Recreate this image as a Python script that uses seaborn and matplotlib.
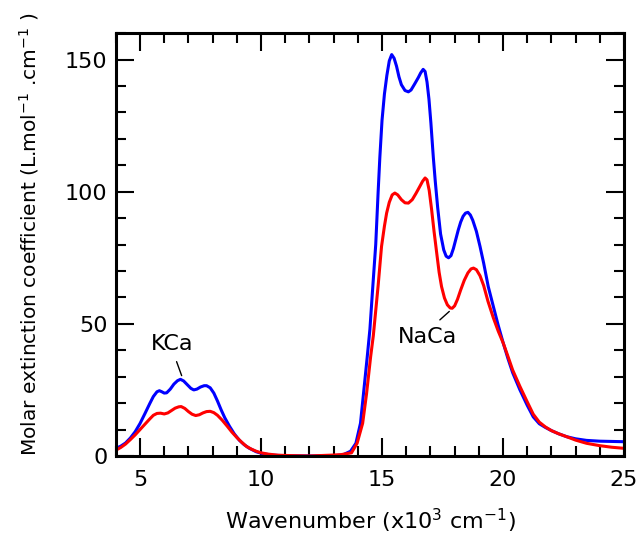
import pandas as pd
import matplotlib.pyplot as plt
import seaborn as sns
from matplotlib.ticker import MultipleLocator

# valori (x in 10^3 cm-1, y in L/mol/cm)
kca_x = [4.0, 4.2, 4.4, 4.6, 4.8, 5.0, 5.2, 5.4, 5.55, 5.7, 5.8, 5.9, 6.0, 6.1, 6.25, 6.4,
         6.55, 6.67, 6.8, 6.95, 7.1, 7.22, 7.35, 7.5, 7.65, 7.75, 7.9, 8.05, 8.2, 8.35,
         8.5, 8.7, 8.9, 9.1, 9.3, 9.5, 9.8, 10.1, 10.5, 11.0, 12.0, 13.0, 13.4, 13.7,
         13.92, 14.11, 14.25, 14.39, 14.5, 14.61, 14.74, 14.84, 14.91, 15.0, 15.1, 15.2,
         15.3, 15.4, 15.5, 15.6, 15.7, 15.8, 15.95, 16.09, 16.2, 16.35, 16.5, 16.6, 16.7,
         16.78, 16.86, 16.94, 17.02, 17.12, 17.2, 17.3, 17.42, 17.55, 17.65, 17.75, 17.85,
         17.95, 18.05, 18.15, 18.25, 18.35, 18.45, 18.55, 18.65, 18.75, 18.9, 19.05, 19.2,
         19.39, 19.6, 19.8, 20.01, 20.2, 20.4, 20.7, 21.0, 21.25, 21.5, 21.75, 22.0, 22.3,
         22.63, 23.0, 23.45, 24.0, 24.5, 25.0]
kca_y = [2.9, 3.7, 4.9, 6.8, 9.2, 12.3, 16.0, 19.8, 22.5, 24.3, 24.7, 24.3, 23.8, 23.9,
         25.3, 27.2, 28.5, 29.0, 28.4, 27.0, 25.6, 25.0, 25.3, 26.1, 26.6, 26.6, 25.8, 23.8,
         20.8, 17.5, 14.5, 11.2, 8.3, 6.0, 4.3, 3.0, 1.6, 0.8, 0.3, 0.1, 0.0, 0.1, 0.5, 1.8,
         4.8, 12.4, 25.0, 37.6, 48.0, 62.9, 80.0, 100.0, 113.0, 127.0, 137.0, 144.0,
         149.5, 151.9, 150.5, 147.5, 143.5, 140.5, 138.3, 137.8, 138.5, 140.8, 143.2, 145.0,
         146.3, 145.5, 141.5, 135.0, 126.0, 113.0, 104.0, 94.0, 84.0, 78.0, 75.6, 75.0, 75.8,
         78.5, 82.0, 85.5, 88.5, 90.7, 91.9, 92.2, 91.2, 89.2, 85.0, 79.3, 73.0,
         64.1, 56.6, 49.5, 42.7, 37.0, 31.5, 25.0, 19.2, 14.8, 12.2, 10.8, 9.6, 8.4,
         7.3, 6.5, 5.9, 5.6, 5.5, 5.4]

naca_x = [4.0, 4.2, 4.4, 4.6, 4.8, 5.0, 5.2, 5.4, 5.55, 5.7, 5.85, 6.0, 6.15, 6.3, 6.45,
          6.6, 6.7, 6.85, 7.0, 7.15, 7.3, 7.45, 7.6, 7.75, 7.9, 8.05, 8.2, 8.4, 8.6, 8.8,
          9.0, 9.2, 9.4, 9.6, 9.8, 10.0, 10.3, 10.7, 11.2, 12.0, 12.85, 13.3, 13.74, 13.97,
          14.2, 14.36, 14.53, 14.64, 14.74, 14.84, 14.98, 15.1, 15.19, 15.3, 15.42, 15.53,
          15.65, 15.8, 15.95, 16.09, 16.25, 16.4, 16.55, 16.68, 16.78, 16.86, 16.95, 17.05,
          17.15, 17.26, 17.36, 17.46, 17.58, 17.7, 17.82, 17.9, 18.0, 18.12, 18.25, 18.4,
          18.55, 18.68, 18.78, 18.9, 19.05, 19.2, 19.38, 19.6, 19.8, 20.01, 20.2, 20.4,
          20.7, 21.0, 21.25, 21.5, 21.75, 22.0, 22.3, 22.63, 23.0, 23.45, 24.0, 24.5, 25.0]
naca_y = [2.2, 3.2, 4.5, 6.2, 8.0, 10.0, 12.0, 14.0, 15.4, 16.1, 16.2, 15.9, 16.3, 17.2,
          18.1, 18.6, 18.7, 18.0, 16.8, 15.8, 15.3, 15.6, 16.3, 16.8, 16.9, 16.4, 15.4, 13.5,
          11.3, 9.0, 7.0, 5.2, 3.6, 2.6, 1.8, 1.2, 0.7, 0.3, 0.15, 0.0, 0.3, 0.5, 1.2, 4.8,
          12.4, 23.5, 37.6, 45.5, 55.0, 64.5, 79.3, 87.0, 91.9, 96.0, 98.8, 99.5,
          98.8, 97.0, 95.8, 95.7, 97.0, 99.3, 101.8, 104.0, 105.2, 104.5, 100.5, 93.2,
          85.0, 76.8, 69.5, 64.1, 59.8, 57.2, 56.0, 55.9, 56.8, 59.3, 62.8, 66.5,
          69.3, 70.8, 71.1, 70.5, 68.2, 64.5, 58.5, 52.3, 47.3, 42.7, 37.8, 32.5,
          26.3, 20.5, 15.8, 12.8, 11.0, 9.6, 8.4, 7.3, 6.0, 4.8, 3.9, 3.3, 2.9]

data = pd.concat([
    pd.DataFrame({'x': kca_x, 'y': kca_y, 'serie': 'KCa'}),
    pd.DataFrame({'x': naca_x, 'y': naca_y, 'serie': 'NaCa'}),
])

sns.set_style("ticks")
plt.rcParams['font.family'] = ['DejaVu Sans']
plt.rcParams['text.color'] = 'black'
plt.rcParams['axes.labelcolor'] = 'black'

fig = plt.figure(figsize=(6.4, 5.35), dpi=100)
ax = fig.add_axes([0.181, 0.1477, 0.794, 0.7903])

sns.lineplot(data=data, x='x', y='y', hue='serie', palette={'KCa': '#0000ff', 'NaCa': '#ff0000'},
             linewidth=2.2, sort=False, estimator=None, legend=False, ax=ax)

ax.set_xlim(4, 25)
ax.set_ylim(0, 160)
ax.xaxis.set_major_locator(MultipleLocator(5))
ax.xaxis.set_minor_locator(MultipleLocator(1))
ax.yaxis.set_major_locator(MultipleLocator(50))
ax.yaxis.set_minor_locator(MultipleLocator(10))
ax.tick_params(which='both', direction='in', top=True, right=True, width=1.5,
               labelsize=16, colors='black')
ax.tick_params(which='major', length=13)
ax.tick_params(which='minor', length=7)
ax.tick_params(axis='x', which='major', pad=10)
ax.tick_params(axis='y', which='major', pad=6)
for s in ax.spines.values():
    s.set_linewidth(2.2)
    s.set_color('black')

ax.set_xlabel("Wavenumber (x10$^{3}$ cm$^{-1}$)", fontsize=16, labelpad=12)
ax.set_ylabel("Molar extinction coefficient (L.mol$^{-1}$ .cm$^{-1}$ )", fontsize=14.5)
ax.yaxis.set_label_coords(-0.148, 0.525)

# etichette
ax.text(6.32, 42.4, "KCa", ha='center', va='center', fontsize=16)
ax.plot([6.51, 6.72], [35.7, 30.4], color='black', linewidth=1)
ax.text(16.86, 45.2, "NaCa", ha='center', va='center', fontsize=16)
ax.plot([17.39, 17.78], [51.5, 54.7], color='black', linewidth=1)

fig.savefig("out.png", dpi=100)
